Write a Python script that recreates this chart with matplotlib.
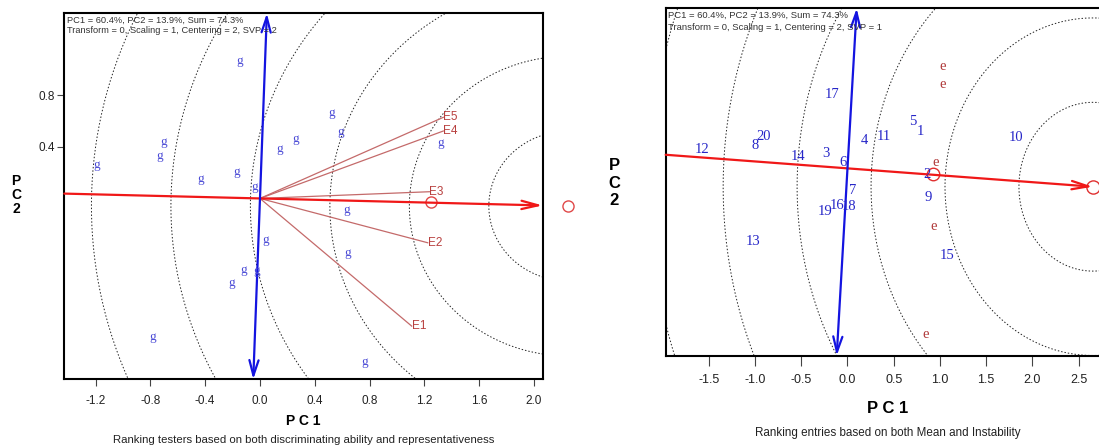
import numpy as np
import matplotlib.pyplot as plt

plt.rcParams['font.family'] = ['Liberation Sans', 'DejaVu Sans']
plt.rcParams['axes.unicode_minus'] = False

# ---- left biplot: ranking testers ----
g_x = [-0.146, 0.521, 0.587, -0.704, -0.733, 0.258, 0.141, 1.322, -1.194, -0.430,
       -0.169, -0.039, 0.631, 0.039, 0.639, -0.117, -0.026, -0.209, -0.785, 0.766]
g_y = [1.064, 0.663, 0.511, 0.439, 0.328, 0.460, 0.380, 0.431, 0.259, 0.150,
       0.202, 0.091, -0.090, -0.322, -0.425, -0.554, -0.562, -0.657, -1.075, -1.269]
env_names = ['E1', 'E2', 'E3', 'E4', 'E5']
env_x = [1.107, 1.224, 1.236, 1.338, 1.338]
env_y = [-0.988, -0.343, 0.052, 0.522, 0.628]
ideal_env = (2.25, -0.059)
ring_env = 0.58
atc_env = 0.035

# ---- right biplot: ranking entries ----
entry_ids = [str(i) for i in range(1, 21)]
entry_x = [0.792, 0.864, -0.231, 0.187, 0.706, -0.044, 0.053, -0.999, 0.875, 1.823,
           0.388, -1.569, -1.017, -0.531, 1.074, -0.116, -0.163, 0.021, -0.242, -0.909]
entry_y = [0.347, -0.054, 0.142, 0.262, 0.442, 0.057, -0.206, 0.214, -0.275, 0.294,
           0.306, 0.180, -0.696, 0.110, -0.822, -0.348, 0.701, -0.357, -0.411, 0.300]
e_x = [1.030, 1.030, 0.955, 0.936, 0.850]
e_y = [0.963, 0.799, 0.057, -0.554, -1.571]
mean_env = (0.929, -0.057)
ideal_entry = (2.655, -0.174)
ring_entry = 0.8

header = 'PC1 = 60.4%, PC2 = 13.9%, Sum = 74.3%\nTransform = 0, Scaling = 1, Centering = 2, SVP = {}'

fig = plt.figure(figsize=(10.99, 4.48), dpi=100)
ax1 = fig.add_axes([0.0585, 0.1533, 0.4353, 0.817])
ax2 = fig.add_axes([0.6057, 0.206, 0.4043, 0.7754])

t = np.linspace(0, 2 * np.pi, 500)


def rings(ax, centre, step, n):
    for k in range(1, n + 1):
        r = step * k
        ax.plot(centre[0] + r * np.cos(t), centre[1] + r * np.sin(t),
                color='#222222', lw=0.7, ls=(0, (1.5, 2)))


def style(ax, fs):
    for s in ax.spines.values():
        s.set_linewidth(1.5)
    ax.tick_params(labelsize=fs, colors='#444444', labelcolor='#222222')


# left panel
ax1.set_xlim(-1.428, 2.063)
ax1.set_ylim(-1.400, 1.433)
rings(ax1, ideal_env, ring_env, 7)
slope = ideal_env[1] / ideal_env[0]
x0, x1 = ax1.get_xlim()
ax1.annotate('', xy=(x1, slope * x1), xytext=(x0, slope * x0),
             arrowprops=dict(arrowstyle='->,head_length=1.2,head_width=0.3',
                             color='#F01818', lw=1.6, shrinkA=0, shrinkB=0))
y0, y1 = ax1.get_ylim()
ax1.annotate('', xy=(atc_env * y1, y1), xytext=(atc_env * y0, y0),
             arrowprops=dict(arrowstyle='<->,head_length=1.1,head_width=0.33',
                             color='#1414E0', lw=1.6, shrinkA=0, shrinkB=0))
for name, x, y in zip(env_names, env_x, env_y):
    ax1.plot([0, x], [0, y], color='#C46A6A', lw=0.9)
    ax1.text(x, y, name, color='#B8403F', fontsize=8.5, ha='left', va='center')
for x, y in zip(g_x, g_y):
    ax1.text(x, y, 'g', color='#4B4BD6', fontsize=9.5, family='Liberation Serif',
             ha='center', va='center')
ax1.plot(np.mean(env_x), np.mean(env_y), 'o', mfc='none', mec='#E04848', ms=8)
ax1.plot(*ideal_env, 'o', mfc='none', mec='#E04848', ms=8, clip_on=False)
ax1.set_xticks(np.arange(-1.2, 2.01, 0.4))
ax1.set_xticklabels(['%.1f' % v for v in np.arange(-1.2, 2.01, 0.4)])
ax1.set_yticks([0.4, 0.8])
ax1.set_yticklabels(['0.4', '0.8'])
style(ax1, 8.5)
ax1.tick_params(axis='x', length=5, pad=6)
ax1.tick_params(axis='y', length=5, pad=2)
ax1.text(0.006, 0.994, header.format(2), transform=ax1.transAxes, fontsize=6.7,
         color='#333333', va='top', ha='left', linespacing=1.15)
ax1.set_xlabel('P C 1', fontsize=10, fontweight='bold', labelpad=5)
fig.text(16 / 1099, 1 - 195 / 448, 'P\nC\n2', fontsize=10, fontweight='bold',
         ha='center', va='center', linespacing=1.0)
fig.text(303.5 / 1099, 1 - 440 / 448,
         'Ranking testers based on both discriminating ability and representativeness',
         fontsize=8.2, ha='center', va='center', color='#222222')

# right panel
ax2.set_xlim(-1.967, 2.84)
ax2.set_ylim(-1.776, 1.517)
rings(ax2, ideal_entry, ring_entry, 6)
slope = ideal_entry[1] / ideal_entry[0]
x0 = ax2.get_xlim()[0]
ax2.annotate('', xy=ideal_entry, xytext=(x0, slope * x0),
             arrowprops=dict(arrowstyle='->,head_length=1.2,head_width=0.3',
                             color='#F01818', lw=1.6, shrinkA=0, shrinkB=0))
y0, y1 = ax2.get_ylim()
ax2.annotate('', xy=(-slope * y1, y1), xytext=(-slope * y0, y0),
             arrowprops=dict(arrowstyle='<->,head_length=1.1,head_width=0.33',
                             color='#1414E0', lw=1.6, shrinkA=0, shrinkB=0))
for lab, x, y in zip(entry_ids, entry_x, entry_y):
    ax2.text(x, y, lab, color='#2626C8', fontsize=10.5, family='Liberation Serif',
             ha='center', va='center')
for x, y in zip(e_x, e_y):
    ax2.text(x, y, 'e', color='#B03A3A', fontsize=10.5, family='Liberation Serif',
             ha='center', va='center')
ax2.plot(*mean_env, 'o', mfc='none', mec='#E03030', ms=9)
ax2.plot(*ideal_entry, 'o', mfc='none', mec='#E03030', ms=9.5, clip_on=False)
ax2.set_xticks(np.arange(-1.5, 2.51, 0.5))
ax2.set_xticklabels(['%.1f' % v for v in np.arange(-1.5, 2.51, 0.5)])
ax2.set_yticks([])
style(ax2, 9)
ax2.tick_params(axis='x', length=7, pad=6)
ax2.text(0.006, 0.993, header.format(1), transform=ax2.transAxes, fontsize=6.8,
         color='#333333', va='top', ha='left', linespacing=1.5)
ax2.set_xlabel('P C 1', fontsize=12, fontweight='bold', labelpad=11)
fig.text(614 / 1099, 1 - 183 / 448, 'P\nC\n2', fontsize=12, fontweight='bold',
         ha='center', va='center', linespacing=1.2)
fig.text(888 / 1099, 1 - 433 / 448, 'Ranking entries based on both Mean and Instability',
         fontsize=8.35, ha='center', va='center', color='#222222')

fig.savefig('out.png', dpi=100)
